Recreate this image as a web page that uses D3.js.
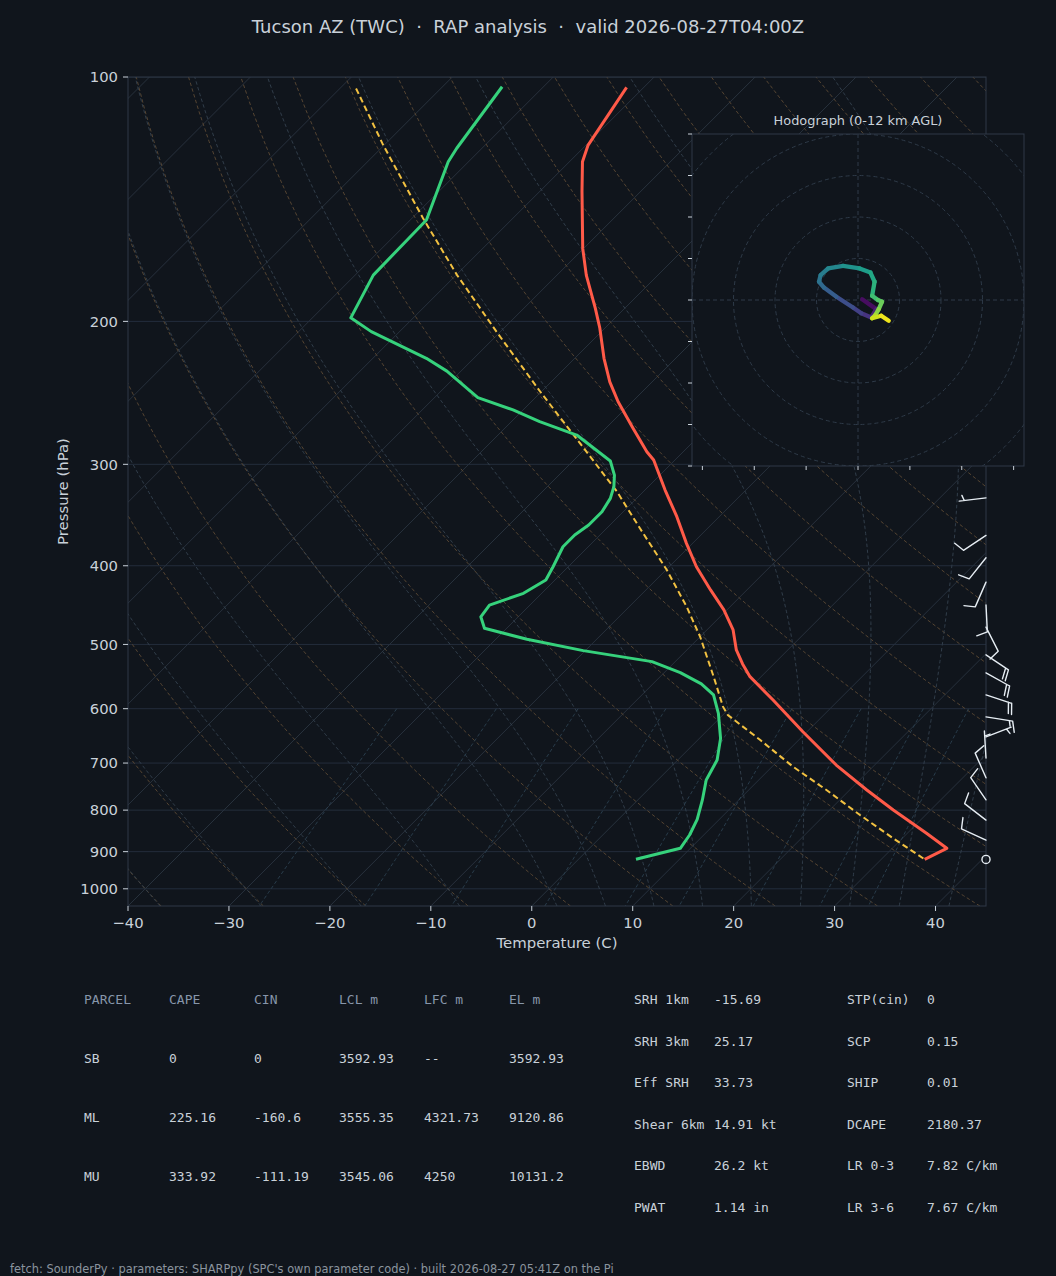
<!DOCTYPE html>
<html><head><meta charset="utf-8">
<script src="https://cdn.jsdelivr.net/npm/d3@7"></script>
<style>
html,body{margin:0;padding:0;background:#10151c;}
svg{display:block;}
text{white-space:pre;}
</style></head><body>
<svg id="c" width="1056" height="1276"></svg>
<script>
// ---------------- data ----------------
const titleText = "Tucson AZ (TWC)  \u00b7  RAP analysis  \u00b7  valid 2026-08-27T04:00Z";
const footerText = "fetch: SounderPy \u00b7 parameters: SHARPpy (SPC's own parameter code) \u00b7 built 2026-08-27 05:41Z on the Pi";
const pressureTicks = [100,200,300,400,500,600,700,800,900,1000];
const tempTicks = [-40,-30,-20,-10,0,10,20,30,40];

const tempP = [103,121.3,127.2,138.4,162.6,175.4,192.8,203.9,222.1,237.4,251.2,270.8,289.5,296.4,322.7,348.0,375.4,401.1,428.4,453.4,479.9,507.9,528.4,547.9,585.4,640.6,704.0,755.6,799.6,854.3,891.5,919.8];
const tempC = [-71.7,-69.8,-68.7,-65.8,-60.1,-57.1,-52.9,-50.5,-47.1,-44.2,-41.4,-37.3,-33.6,-32.1,-28.0,-24.2,-20.6,-17.3,-13.6,-10.3,-7.4,-5.1,-3.1,-1.1,3.5,9.6,16.2,21.7,26.3,31.9,35.4,34.3];

const dewP = [102.8,122.4,127.2,150.0,175.4,198.0,205.9,222.1,230.3,248.3,257.1,265.8,276.1,297.2,309.3,319.7,330.4,343.2,356.4,366.6,379.0,401.1,416.5,432.5,447.2,462.3,477.6,492.7,508.9,525.0,541.7,559.3,577.1,607.9,652.7,694.0,734.5,777.3,821.1,858.5,891.5,919.8];
const dewC = [-84.1,-82.5,-82.0,-78.4,-78.2,-76.2,-72.8,-64.7,-61.4,-55.7,-51.0,-47.2,-42.2,-36.3,-34.5,-33.4,-32.6,-32.1,-32.1,-32.5,-32.5,-31.5,-30.9,-31.8,-34.0,-33.7,-32.2,-26.9,-20.2,-12.3,-8.4,-5.2,-2.9,-0.6,2.1,3.9,4.8,6.4,7.8,8.6,9.0,5.7];

const parcelP = [103.3,121.3,149.3,175.4,205.9,244.2,276.1,307.8,324.2,359.7,404.9,449.3,490.2,547.9,596.6,610.8,655.8,707.4,755.6,811.1,866.6,919.8];
const parcelC = [-98.4,-90.1,-78.9,-69.9,-60.4,-50.1,-42.5,-35.8,-32.6,-26.7,-19.9,-14.3,-9.9,-4.7,-0.8,0.5,6.2,12.1,17.7,23.5,29.1,34.3];

const windP = [330,367,391,419,447,476,515,542,577,614,650,690,730,777,823,871,920];
const windU = [5.0,8.3,6.2,4.0,-0.5,-4.5,-16.6,-17.6,-19.0,-14.8,-4.65,0.3,4.0,5.65,7.9,9.1,0];
const windV = [0.6,5.5,7.8,9.2,10.0,8.9,11.1,9.8,6.2,2.4,-1.8,-5.0,-9.15,-8.23,-6.1,-4.2,0];

const hodoU = [1.0,4.4,3.2,0.8,-1.2,-5.2,-8.2,-9.4,-9.0,-7.2,-3.6,0.4,3.0,4.0,3.4,4.8,5.8,5.0,4.2,3.4,5.6,7.4];
const hodoV = [0.2,-2.2,-4.2,-3.2,-1.8,0.8,3.0,4.4,6.0,7.6,8.2,7.6,6.6,4.4,1.0,0.0,-0.4,-2.2,-3.6,-4.4,-3.8,-5.0];
const hodoZ = [0,0.8,1.5,2.0,2.5,3.2,3.8,4.3,4.8,5.3,5.8,6.4,6.9,7.4,8.0,8.6,9.0,9.6,10.2,10.8,11.4,12.0];
const hodoRings = [10,20,30,40,50,60];
const hodoYTicks = [-40,-30,-20,-10,0,10,20,30,40];
const hodoXTicks = [-37.5,-25,-12.5,0,12.5,25,37.5];

const parcelHeaders = ["PARCEL","CAPE","CIN","LCL m","LFC m","EL m"];
const parcelNames = ["SB","ML","MU"];
const parcelCape = ["0","225.16","333.92"];
const parcelCin = ["0","-160.6","-111.19"];
const parcelLcl = ["3592.93","3555.35","3545.06"];
const parcelLfc = ["--","4321.73","4250"];
const parcelEl = ["3592.93","9120.86","10131.2"];

const idxLabels1 = ["SRH 1km","SRH 3km","Eff SRH","Shear 6km","EBWD","PWAT"];
const idxValues1 = ["-15.69","25.17","33.73","14.91 kt","26.2 kt","1.14 in"];
const idxLabels2 = ["STP(cin)","SCP","SHIP","DCAPE","LR 0-3","LR 3-6"];
const idxValues2 = ["0","0.15","0.01","2180.37","7.82 C/km","7.67 C/km"];

const dryT0 = d3.range(-40, 201, 10);
const moistT0 = [-40,-30,-20,-10,0,5,10,15,20,25,30,35,40,45];
const mixRatios = [0.0004,0.001,0.002,0.004,0.007,0.01,0.016,0.024,0.032];

// ---------------- style ----------------
const BG = "#10151c";
const TXT = "#c9d1d9";
const SPINE = "#2e3947";
const FONT = "DejaVu Sans, sans-serif";
const MONO = "DejaVu Sans Mono, monospace";

const svg = d3.select("#c");
svg.append("rect").attr("width",1056).attr("height",1276).attr("fill",BG);

const L=128, R=986, T=77, B=906;
const x = d3.scaleLinear().domain([-40,45]).range([L,R]);
const y = d3.scaleLog().domain([1050,100]).range([B,T]);
const sx = (t,p) => x(t) + (B - y(p));

svg.append("defs").append("clipPath").attr("id","plotclip")
  .append("rect").attr("x",L).attr("y",T).attr("width",R-L).attr("height",B-T);

const plot = svg.append("g").attr("clip-path","url(#plotclip)");

// thermodynamics for background reference lines
const RD=287.04749, CP=1005.7, LV=2.50084e6, EPS=0.6219569;
const esat = Tk => { const tc=Tk-273.15; return 6.112*Math.exp(17.67*tc/(tc+243.5)); };
const dTdp = (p,Tk) => { const es=esat(Tk); const rs=EPS*es/Math.max(p-es,1e-3);
  return (RD*Tk + LV*rs)/(CP + LV*LV*rs*EPS/(RD*Tk*Tk))/p; };
function moistProfile(t0){
  const run=(h,pEnd)=>{ let p=1000, Tk=t0+273.15; const out=[[p,Tk]];
    while((h<0 && p>pEnd) || (h>0 && p<pEnd)){
      const k1=dTdp(p,Tk), k2=dTdp(p+h/2,Tk+h/2*k1), k3=dTdp(p+h/2,Tk+h/2*k2), k4=dTdp(p+h,Tk+h*k3);
      Tk += h/6*(k1+2*k2+2*k3+k4); p+=h; out.push([p,Tk]); }
    return out; };
  const up=run(-5,100), dn=run(5,1050);
  return dn.reverse().concat(up.slice(1)).map(d=>[d[0], d[1]-273.15]);
}
const skewLine = d3.line().x(d=>sx(d[1],d[0])).y(d=>y(d[0]));

// isotherms
d3.range(-170, 50, 10).forEach(t=>{
  plot.append("line").attr("x1",sx(t,1050)).attr("y1",y(1050)).attr("x2",sx(t,100)).attr("y2",y(100))
    .attr("stroke","#2a3441").attr("stroke-width",0.9);
});
// pressure grid
pressureTicks.forEach(p=>{
  plot.append("line").attr("x1",L).attr("x2",R).attr("y1",y(p)).attr("y2",y(p))
    .attr("stroke","#263040").attr("stroke-width",0.9);
});
// dry adiabats
const pGrid = d3.range(1050, 99, -10).concat([100]);
dryT0.forEach(t0=>{
  const th=t0+273.15;
  const pts=pGrid.map(p=>[p, th*Math.pow(p/1000,0.2857)-273.15]);
  plot.append("path").attr("d",skewLine(pts)).attr("fill","none")
    .attr("stroke","#5c4a34").attr("stroke-width",0.9).attr("stroke-dasharray","3.5,2.5");
});
// moist adiabats
moistT0.forEach(t0=>{
  plot.append("path").attr("d",skewLine(moistProfile(t0))).attr("fill","none")
    .attr("stroke","#34424f").attr("stroke-width",0.9).attr("stroke-dasharray","3.5,2.5");
});
// mixing ratio lines
mixRatios.forEach(w=>{
  const pts=d3.range(600,1051,10).map(p=>{ const e=p*w/(EPS+w); const lg=Math.log(e/6.112);
    return [p, 243.5*lg/(17.67-lg)]; });
  plot.append("path").attr("d",skewLine(pts)).attr("fill","none")
    .attr("stroke","#2b4150").attr("stroke-width",0.9).attr("stroke-dasharray","3.5,2.5");
});

// profiles
const prof = (P,C)=>P.map((p,i)=>[p,C[i]]);
plot.append("path").attr("d",skewLine(prof(parcelP,parcelC))).attr("fill","none")
  .attr("stroke","#f2c141").attr("stroke-width",2).attr("stroke-dasharray","6,3.5");
plot.append("path").attr("d",skewLine(prof(dewP,dewC))).attr("fill","none")
  .attr("stroke","#36d27c").attr("stroke-width",3).attr("stroke-linejoin","round");
plot.append("path").attr("d",skewLine(prof(tempP,tempC))).attr("fill","none")
  .attr("stroke","#ff5a48").attr("stroke-width",3).attr("stroke-linejoin","round");

// frame
svg.append("rect").attr("x",L).attr("y",T).attr("width",R-L).attr("height",B-T)
  .attr("fill","none").attr("stroke",SPINE).attr("stroke-width",1);

// axes ticks
pressureTicks.forEach(p=>{
  svg.append("line").attr("x1",L-5).attr("x2",L).attr("y1",y(p)).attr("y2",y(p)).attr("stroke",TXT).attr("stroke-width",1);
  svg.append("text").attr("x",L-10).attr("y",y(p)).attr("dy","0.36em").attr("text-anchor","end")
    .attr("font-family",FONT).attr("font-size",14.8).attr("fill",TXT).text(p);
});
tempTicks.forEach(t=>{
  svg.append("line").attr("x1",x(t)).attr("x2",x(t)).attr("y1",B).attr("y2",B+5).attr("stroke",TXT).attr("stroke-width",1);
  svg.append("text").attr("x",x(t)).attr("y",B+22).attr("text-anchor","middle")
    .attr("font-family",FONT).attr("font-size",14.8).attr("fill",TXT).text(t<0?"\u2212"+Math.abs(t):String(t));
});
svg.append("text").attr("transform",`translate(68,${(T+B)/2}) rotate(-90)`).attr("text-anchor","middle")
  .attr("font-family",FONT).attr("font-size",14.9).attr("fill",TXT).text("Pressure (hPa)");
svg.append("text").attr("x",(L+R)/2).attr("y",948).attr("text-anchor","middle")
  .attr("font-family",FONT).attr("font-size",14.9).attr("fill",TXT).text("Temperature (C)");
svg.append("text").attr("x",528).attr("y",33).attr("text-anchor","middle")
  .attr("font-family",FONT).attr("font-size",18).attr("fill",TXT).text(titleText);

// wind barbs
const LEN=27, FH=0.4*LEN, FW=0.25*LEN, SP=0.125*LEN;
const barbs = svg.append("g").attr("stroke","#e6edf3").attr("stroke-width",1.4).attr("fill","none")
  .attr("stroke-linecap","round").attr("stroke-linejoin","round");
windP.forEach((p,i)=>{
  const u=windU[i], v=windV[i], s=Math.hypot(u,v);
  const bx=R, by=y(p);
  const r=Math.round(s/5)*5;
  if(r<5){ barbs.append("circle").attr("cx",bx).attr("cy",by).attr("r",0.15*LEN); return; }
  const dx=-u/s, dy=v/s, px=-dy, py=dx;
  const pt=(o,side)=>[bx+dx*o+px*side, by+dy*o+py*side];
  let d=`M${bx},${by}L${pt(LEN,0)}`;
  let nflag=Math.floor(r/50), rem=r-nflag*50, nfull=Math.floor(rem/10), half=(rem-nfull*10)>=5;
  let off=LEN;
  for(let k=0;k<nflag;k++){ d+=`M${pt(off,0)}L${pt(off-FW/2,FH)}L${pt(off-FW,0)}`; off-=FW+SP; }
  for(let k=0;k<nfull;k++){ d+=`M${pt(off,0)}L${pt(off+FW/2,FH)}`; off-=SP; }
  if(half){ if(off===LEN) off-=1.5*SP; d+=`M${pt(off,0)}L${pt(off+FW/4,FH/2)}`; }
  barbs.append("path").attr("d",d);
});

// hodograph inset
const HX0=692, HX1=1024, HY0=134, HY1=466;
const hu = d3.scaleLinear().domain([-40,40]).range([HX0,HX1]);
const hv = d3.scaleLinear().domain([-40,40]).range([HY1,HY0]);
const hg = svg.append("g");
hg.append("rect").attr("x",HX0).attr("y",HY0).attr("width",HX1-HX0).attr("height",HY1-HY0).attr("fill",BG);
svg.select("defs").append("clipPath").attr("id","hodoclip")
  .append("rect").attr("x",HX0).attr("y",HY0).attr("width",HX1-HX0).attr("height",HY1-HY0);
const hin = hg.append("g").attr("clip-path","url(#hodoclip)");
const pxPerKt = hu(1)-hu(0);
hodoRings.forEach(r=>{
  hin.append("circle").attr("cx",hu(0)).attr("cy",hv(0)).attr("r",r*pxPerKt)
    .attr("fill","none").attr("stroke","#2e3a48").attr("stroke-width",1).attr("stroke-dasharray","4,3");
});
hin.append("line").attr("x1",HX0).attr("x2",HX1).attr("y1",hv(0)).attr("y2",hv(0))
  .attr("stroke","#2e3a48").attr("stroke-width",1).attr("stroke-dasharray","4,3");
hin.append("line").attr("y1",HY0).attr("y2",HY1).attr("x1",hu(0)).attr("x2",hu(0))
  .attr("stroke","#2e3a48").attr("stroke-width",1).attr("stroke-dasharray","4,3");
for(let i=0;i<hodoU.length-1;i++){
  hin.append("line").attr("x1",hu(hodoU[i])).attr("y1",hv(hodoV[i]))
    .attr("x2",hu(hodoU[i+1])).attr("y2",hv(hodoV[i+1]))
    .attr("stroke",d3.interpolateViridis((hodoZ[i]+hodoZ[i+1])/2/12))
    .attr("stroke-width",4.3).attr("stroke-linecap","round");
}
hg.append("rect").attr("x",HX0).attr("y",HY0).attr("width",HX1-HX0).attr("height",HY1-HY0)
  .attr("fill","none").attr("stroke",SPINE).attr("stroke-width",1);
hodoYTicks.forEach(t=>{
  hg.append("line").attr("x1",HX0-4).attr("x2",HX0).attr("y1",hv(t)).attr("y2",hv(t)).attr("stroke",TXT).attr("stroke-width",1);
});
hodoXTicks.forEach(t=>{
  hg.append("line").attr("x1",hu(t)).attr("x2",hu(t)).attr("y1",HY1).attr("y2",HY1+4).attr("stroke",TXT).attr("stroke-width",1);
});
hg.append("text").attr("x",858).attr("y",124.5).attr("text-anchor","middle")
  .attr("font-family",FONT).attr("font-size",12.9).attr("fill",TXT).text("Hodograph (0-12 km AGL)");

// parcel table
const colX = [84,169,254,339,424,509];
const rowY = [1004,1063,1122,1181];
const tbl = svg.append("g").attr("font-family",MONO).attr("font-size",13);
parcelHeaders.forEach((h,j)=>tbl.append("text").attr("x",colX[j]).attr("y",rowY[0]).attr("fill","#8796aa").text(h));
parcelNames.forEach((n,i)=>{
  const vals=[n,parcelCape[i],parcelCin[i],parcelLcl[i],parcelLfc[i],parcelEl[i]];
  vals.forEach((v,j)=>tbl.append("text").attr("x",colX[j]).attr("y",rowY[i+1]).attr("fill",TXT).text(v));
});
// indices
const idxY = [1004,1046,1087,1129,1170,1212];
idxLabels1.forEach((l,i)=>{
  tbl.append("text").attr("x",634).attr("y",idxY[i]).attr("fill",TXT).text(l);
  tbl.append("text").attr("x",714).attr("y",idxY[i]).attr("fill",TXT).text(idxValues1[i]);
  tbl.append("text").attr("x",847).attr("y",idxY[i]).attr("fill",TXT).text(idxLabels2[i]);
  tbl.append("text").attr("x",927).attr("y",idxY[i]).attr("fill",TXT).text(idxValues2[i]);
});

svg.append("text").attr("x",10).attr("y",1273).attr("font-family",FONT).attr("font-size",11.4)
  .attr("fill","#8b949e").text(footerText);
</script>
</body></html>
